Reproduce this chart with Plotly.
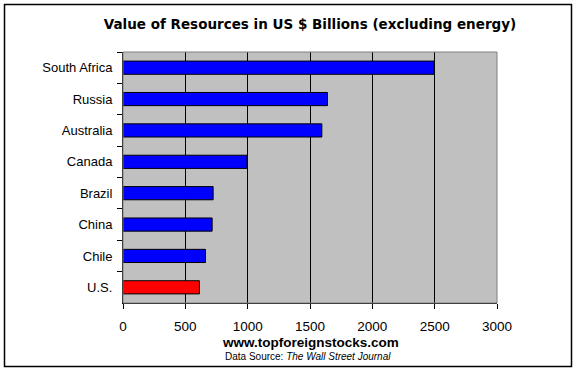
import plotly.graph_objects as go

countries = ["South Africa", "Russia", "Australia", "Canada", "Brazil", "China", "Chile", "U.S."]
values = [2495, 1640, 1595, 995, 723, 715, 662, 613]
bar_colors = ["#0000FF"] * 7 + ["#FF0000"]
x_ticks = [0, 500, 1000, 1500, 2000, 2500, 3000]

FONT = "Liberation Sans, Arial, sans-serif"
TFONT = "DejaVu Sans, sans-serif"
W, H = 576, 371
L, R, T, B = 123, 79, 52, 68
pw, ph = W - L - R, H - T - B

fig = go.Figure(go.Bar(
    x=values, y=countries, orientation="h",
    marker=dict(color=bar_colors, line=dict(color="black", width=1)),
    width=0.42,
))

def px2paper_x(px):
    return (px - L) / pw

def px2paper_y(py):
    return (H - B - py) / ph

fig.update_layout(
    width=W, height=H,
    margin=dict(l=L, r=R, t=T, b=B),
    paper_bgcolor="white",
    plot_bgcolor="#C0C0C0",
    showlegend=False,
    font=dict(family=FONT, size=12, color="black"),
    title=dict(text="<b>Value of Resources in US $ Billions (excluding energy)</b>",
               x=310 / W, xanchor="center",
               y=1 - 24 / H, yanchor="middle",
               font=dict(family=TFONT, size=13.5, color="black")),
    xaxis=dict(range=[0, 3000], tickvals=x_ticks, ticktext=[str(v) for v in x_ticks],
               showgrid=True, gridcolor="black", gridwidth=1,
               showline=True, linecolor="black", linewidth=1,
               ticks="outside", ticklen=5, tickcolor="black",
               ticklabelstandoff=6,
               zeroline=False, fixedrange=True,
               tickfont=dict(family=FONT, size=13.5)),
    yaxis=dict(categoryorder="array", categoryarray=countries, autorange="reversed",
               showgrid=False, showline=True, linecolor="black", linewidth=1,
               ticks="outside", ticklen=5, tickcolor="black", tickson="boundaries",
               ticklabelstandoff=7, fixedrange=True,
               tickfont=dict(family=FONT, size=13)),
    shapes=[
        dict(type="rect", xref="paper", yref="paper", x0=0, x1=1, y0=0, y1=1,
             line=dict(color="#808080", width=1), layer="above"),
        dict(type="rect", xref="paper", yref="paper",
             x0=px2paper_x(4.5), x1=px2paper_x(571.5),
             y0=px2paper_y(366.5), y1=px2paper_y(4.5),
             line=dict(color="black", width=1.5)),
    ],
    annotations=[
        dict(text="<b>www.topforeignstocks.com</b>", xref="paper", yref="paper",
             x=px2paper_x(310), y=px2paper_y(342), xanchor="center", yanchor="middle",
             showarrow=False, font=dict(family=FONT, size=13.5, color="black")),
        dict(text="Data Source: <i>The Wall Street Journal</i>", xref="paper", yref="paper",
             x=px2paper_x(308), y=px2paper_y(356), xanchor="center", yanchor="middle",
             showarrow=False, font=dict(family=FONT, size=10, color="black")),
    ],
)

fig.write_html("out.html", config={"displayModeBar": False},
               post_script="document.body.style.margin='0';document.body.style.overflow='hidden';")
